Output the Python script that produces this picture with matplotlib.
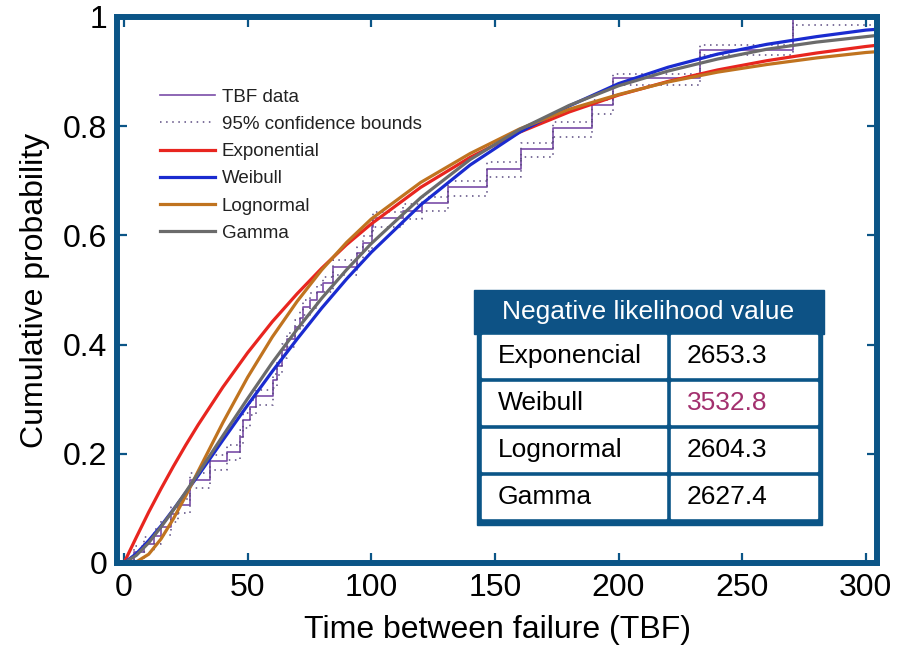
import numpy as np
import matplotlib.pyplot as plt
from matplotlib.patches import Rectangle

plt.rcParams['font.family'] = ['Liberation Sans', 'DejaVu Sans']

# --- empirical TBF data (step positions and cumulative levels) ---
tbf_steps = [0, 4, 8, 12, 15, 19, 22, 26.7, 34.8, 41.5, 46.9, 48.2, 50.9, 53.6, 60.3,
             62, 63.8, 66, 69.1, 71.2, 72.5, 75.2, 78, 80.6, 84.6, 94.1, 96.8, 100.2,
             100.8, 113, 120.4, 130.9, 146.9, 160.5, 173.3, 189.4, 197.6, 232.9, 270.4, 310]
tbf_cdf = [0.0, 0.02, 0.035, 0.05, 0.066, 0.09, 0.106, 0.152, 0.186, 0.204, 0.231, 0.262,
           0.286, 0.305, 0.335, 0.36, 0.39, 0.41, 0.433, 0.449, 0.469, 0.482, 0.497, 0.512,
           0.543, 0.567, 0.586, 0.616, 0.631, 0.645, 0.659, 0.688, 0.722, 0.758, 0.796,
           0.838, 0.888, 0.94, 1.0, 1.0]
cdf_upper = [0.008, 0.032, 0.047, 0.062, 0.078, 0.102, 0.118, 0.164, 0.198, 0.216, 0.243,
             0.274, 0.298, 0.317, 0.347, 0.372, 0.402, 0.422, 0.445, 0.461, 0.481, 0.494,
             0.509, 0.524, 0.555, 0.579, 0.598, 0.628, 0.643, 0.657, 0.671, 0.700, 0.734,
             0.770, 0.808, 0.848, 0.896, 0.948, 1.0, 1.0]
cdf_lower = [0.0, 0.005, 0.02, 0.035, 0.051, 0.075, 0.091, 0.137, 0.171, 0.189, 0.216,
             0.247, 0.271, 0.29, 0.32, 0.345, 0.375, 0.395, 0.418, 0.434, 0.454, 0.467,
             0.482, 0.497, 0.528, 0.552, 0.571, 0.601, 0.616, 0.630, 0.644, 0.673, 0.707,
             0.743, 0.781, 0.823, 0.876, 0.930, 0.985, 0.985]

# --- fitted cdf curves ---
x_fit = [0, 5, 10, 15, 20, 25, 30, 40, 50, 60, 70, 80, 90, 100, 120, 140, 160, 180,
         200, 220, 240, 260, 280, 300, 306]
exp_cdf = [0, 0.047, 0.093, 0.136, 0.177, 0.216, 0.253, 0.322, 0.385, 0.442, 0.493,
           0.540, 0.583, 0.621, 0.688, 0.743, 0.789, 0.826, 0.857, 0.882, 0.903, 0.920,
           0.934, 0.946, 0.949]
weib_cdf = [0, 0.017, 0.041, 0.068, 0.098, 0.129, 0.160, 0.225, 0.289, 0.351, 0.410,
            0.467, 0.520, 0.569, 0.656, 0.729, 0.789, 0.837, 0.878, 0.908, 0.932, 0.950,
            0.964, 0.976, 0.978]
logn_cdf = [0, 0.002, 0.016, 0.044, 0.081, 0.123, 0.168, 0.257, 0.340, 0.414, 0.479,
            0.537, 0.587, 0.630, 0.697, 0.750, 0.795, 0.831, 0.858, 0.881, 0.899, 0.913,
            0.925, 0.935, 0.937]
gamma_cdf = [0, 0.014, 0.037, 0.066, 0.097, 0.130, 0.164, 0.233, 0.301, 0.367, 0.428,
             0.485, 0.537, 0.585, 0.669, 0.739, 0.794, 0.838, 0.874, 0.901, 0.923, 0.941,
             0.954, 0.964, 0.967]

fit_names = ['Exponencial', 'Weibull', 'Lognormal', 'Gamma']
nll_values = [2653.3, 3532.8, 2604.3, 2627.4]

frame_blue = '#0B5587'

fig = plt.figure(figsize=(9.06, 6.47), dpi=100)
ax = fig.add_axes([117 / 906, 1 - 563 / 647, 760 / 906, 546 / 647])

ax.plot(tbf_steps, tbf_cdf, drawstyle='steps-post', color='#7A4DA8', lw=1.2, label='TBF data')
ax.plot(tbf_steps, cdf_upper, drawstyle='steps-post', color='#5A4A80', lw=1.1,
        ls=(0, (1, 3)), label='95% confidence bounds')
ax.plot(tbf_steps, cdf_lower, drawstyle='steps-post', color='#5A4A80', lw=1.1, ls=(0, (1, 3)))
ax.plot(x_fit, exp_cdf, color='#E8251F', lw=2.3, label='Exponential')
ax.plot(x_fit, weib_cdf, color='#1A2BD0', lw=2.3, label='Weibull')
ax.plot(x_fit, logn_cdf, color='#C0731F', lw=2.3, label='Lognormal')
ax.plot(x_fit, gamma_cdf, color='#6B6B6B', lw=2.3, label='Gamma')

ax.set_xlim(-2.8, 304.5)
ax.set_ylim(0, 1)
ax.set_xticks([0, 50, 100, 150, 200, 250, 300])
ax.set_yticks([0, 0.2, 0.4, 0.6, 0.8, 1])
ax.set_yticklabels(['0', '0.2', '0.4', '0.6', '0.8', '1'])
for s in ax.spines.values():
    s.set_color(frame_blue)
    s.set_linewidth(4.3)
ax.tick_params(direction='in', length=7, width=1.6, color=frame_blue,
               top=True, right=True, labelsize=23, pad=7)
ax.set_xlabel('Time between failure (TBF)', fontsize=23, labelpad=9)
ax.set_ylabel('Cumulative probability', fontsize=23, labelpad=9)

leg = ax.legend(loc='upper left', bbox_to_anchor=(0.056, 0.869), frameon=False,
                borderpad=0, borderaxespad=0, handlelength=2.95, handletextpad=0.38,
                labelspacing=0.54, prop={'size': 13.5})
for t in leg.get_texts():
    t.set_color('#222222')

# --- likelihood table drawn in pixel coordinates ---
ov = fig.add_axes([0, 0, 1, 1])
ov.set_xlim(0, 906)
ov.set_ylim(647, 0)
ov.axis('off')
ov.add_patch(Rectangle((474, 290), 350, 44, color='#0D5285'))
ov.add_patch(Rectangle((477, 333), 345, 192, color=frame_blue))
ov.text(648, 312, 'Negative likelihood value', color='white', fontsize=19,
        ha='center', va='center')
for i, (name, val) in enumerate(zip(fit_names, nll_values)):
    y0 = 335 + 47 * i
    ov.add_patch(Rectangle((482, y0), 184, 42, color='white'))
    ov.add_patch(Rectangle((671, y0), 146, 42, color='white'))
    ov.text(498, y0 + 21, name, fontsize=19, ha='left', va='center')
    col = '#A3306E' if name == 'Weibull' else 'black'
    ov.text(687, y0 + 21, f'{val:.1f}', fontsize=19, ha='left', va='center', color=col)

fig.savefig('out.png', dpi=100)
